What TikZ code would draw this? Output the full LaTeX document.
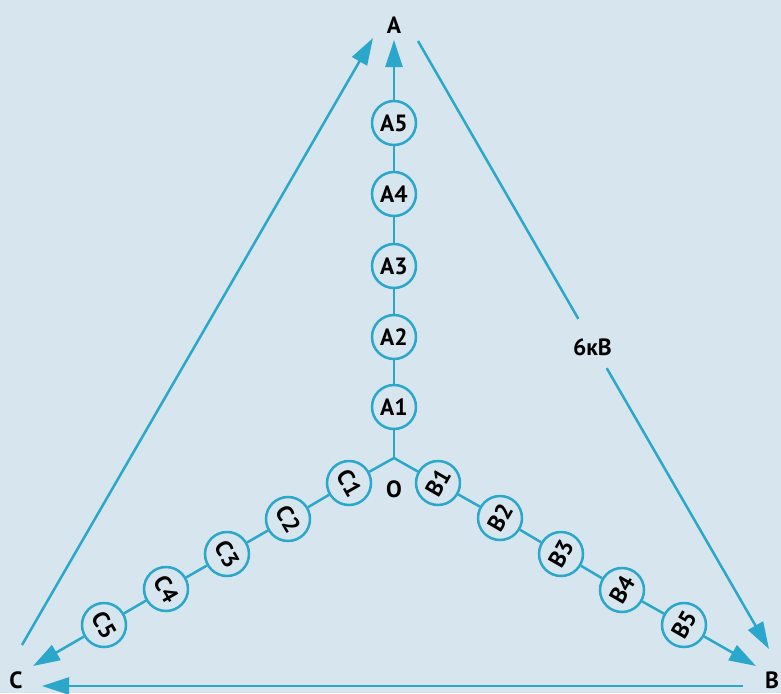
\documentclass[tikz,border=0pt]{standalone}
\usepackage{fontspec}
\setmainfont{PT Sans}
\usetikzlibrary{arrows.meta}
\definecolor{linec}{HTML}{2BA7CB}
\definecolor{bgc}{HTML}{D7E5EE}
\tikzset{
  x=1pt,y=-1pt,
  wire/.style={draw=linec,line width=2.5pt},
  arr/.style={wire,-{Triangle[length=27pt,width=17pt]}},
  coil/.style={circle,draw=linec,line width=2.5pt,minimum size=44pt,inner sep=0pt,font=\fontsize{23.5}{24}\selectfont\bfseries,text=black},
  lbl/.style={inner sep=0pt,font=\fontsize{23.5}{24}\selectfont\bfseries,text=black},
}
\begin{document}
\begin{tikzpicture}
\path[use as bounding box,fill=bgc] (0,0) rectangle (781,693);
\foreach \n/\xx/\yy in {A5/394/123,A4/394/194,A3/394/266,A2/394/337,A1/394/407}
  \node[coil] (\n) at (\xx,\yy) {\n};
\foreach \n/\xx/\yy in {B1/438/483,B2/500/518,B3/561/554,B4/622/590,B5/684/625}
  \node[coil] (\n) at (\xx,\yy) {\rotatebox{60}{\n}};
\foreach \n/\xx/\yy in {C1/349/483,C2/288/519,C3/227/554,C4/166/589,C5/104/625}
  \node[coil] (\n) at (\xx,\yy) {\rotatebox{-60}{\n}};
\node[lbl] (lA) at (394,25) {A};
\node[lbl] (lB) at (772,680) {B};
\node[lbl] (lC) at (16,680) {C};
\node[lbl] (lO) at (394,489) {O};
\node[lbl,text height=36pt,text depth=13pt] (lV) at (592.5,343.5) {6кВ};
\coordinate (O) at (394,458);
\coordinate (tA) at (394,40);
\coordinate (tB) at (756,666);
\coordinate (tC) at (33,666);
\coordinate (acTip) at (373,38);
\coordinate (acTail) at (22,645);
\coordinate (abTail) at (418,41);
\coordinate (abTip) at (769,649);
\coordinate (bcTail) at (743,686);
\coordinate (bcTip) at (42,686);
\draw[wire] (O) -- (A1);
\draw[wire] (A1) -- (A2);
\draw[wire] (A2) -- (A3);
\draw[wire] (A3) -- (A4);
\draw[wire] (A4) -- (A5);
\draw[arr] (A5) -- (tA);
\draw[wire] (O) -- (B1);
\draw[wire] (B1) -- (B2);
\draw[wire] (B2) -- (B3);
\draw[wire] (B3) -- (B4);
\draw[wire] (B4) -- (B5);
\draw[arr] (B5) -- (tB);
\draw[wire] (O) -- (C1);
\draw[wire] (C1) -- (C2);
\draw[wire] (C2) -- (C3);
\draw[wire] (C3) -- (C4);
\draw[wire] (C4) -- (C5);
\draw[arr] (C5) -- (tC);
\draw[arr] (acTail) -- (acTip);
\draw[wire] (abTail) -- (lV);
\draw[arr] (lV) -- (abTip);
\draw[arr] (bcTail) -- (bcTip);
\end{tikzpicture}
\end{document}
